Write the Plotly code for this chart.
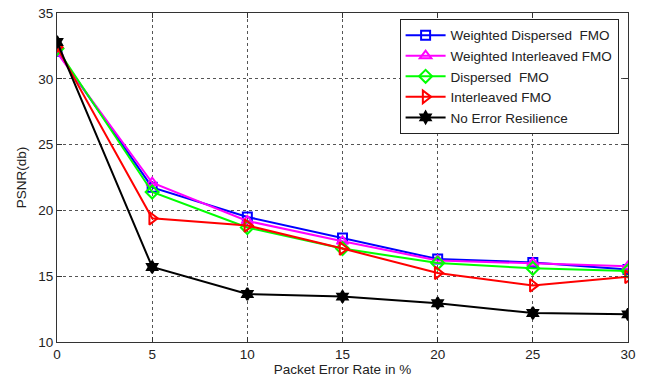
import plotly.graph_objects as go

per = [0, 5, 10, 15, 20, 25, 30]
weighted_dispersed = [32.1, 21.75, 19.5, 17.9, 16.3, 16.05, 15.5]
weighted_interleaved = [32.0, 22.1, 19.2, 17.65, 16.2, 16.0, 15.75]
dispersed = [32.3, 21.4, 18.7, 17.1, 16.0, 15.6, 15.4]
interleaved = [32.4, 19.4, 18.85, 17.1, 15.25, 14.3, 14.95]
no_resilience = [32.8, 15.7, 13.65, 13.45, 12.95, 12.2, 12.1]

series = [
    ("Weighted Dispersed  FMO", weighted_dispersed, "#0000ff", "square-open", 9),
    ("Weighted Interleaved FMO", weighted_interleaved, "#ff00ff", "triangle-up-open", 10),
    ("Dispersed  FMO", dispersed, "#00ff00", "diamond-open", 10),
    ("Interleaved FMO", interleaved, "#ff0000", "triangle-right-open", 11),
    ("No Error Resilience", no_resilience, "#000000", "hexagram", 9),
]

FONT = "Liberation Sans, Arial"

fig = go.Figure()
for name, ys, color, sym, size in series:
    fig.add_trace(go.Scatter(
        x=per, y=ys, name=name, mode="lines+markers",
        line=dict(color=color, width=2),
        marker=dict(symbol=sym, size=size, color=color, line=dict(color=color, width=2)),
    ))

axis_common = dict(
    showline=True, linecolor="#333333", linewidth=1, mirror="allticks",
    ticks="inside", ticklen=5, tickcolor="#333333",
    showgrid=True, gridcolor="#555555", griddash="dot", gridwidth=1,
    zeroline=False, automargin=False,
    tickfont=dict(family=FONT, size=13.5, color="#222222"),
)

fig.update_xaxes(range=[0, 30], tickvals=[0, 5, 10, 15, 20, 25, 30],
                 title=dict(text="Packet Error Rate in %", standoff=2,
                            font=dict(family=FONT, size=13.5, color="#222222")),
                 **axis_common)
fig.update_yaxes(range=[10, 35], tickvals=[10, 15, 20, 25, 30, 35],
                 title=dict(text="PSNR(db)", standoff=8,
                            font=dict(family=FONT, size=13.5, color="#222222")),
                 **axis_common)

fig.update_layout(
    width=646, height=379,
    margin=dict(l=57, r=18, t=13, b=37),
    plot_bgcolor="white", paper_bgcolor="white",
    legend=dict(x=0.6, y=0.982, xanchor="left", yanchor="top",
                bgcolor="white", bordercolor="#222222", borderwidth=1,
                font=dict(family=FONT, size=13.5, color="#222222"),
                tracegroupgap=0, itemwidth=40),
    showlegend=True,
)

fig.write_html("out.html", config={"displayModeBar": False},
               post_script="document.body.style.margin='0';document.body.style.overflow='hidden';")
